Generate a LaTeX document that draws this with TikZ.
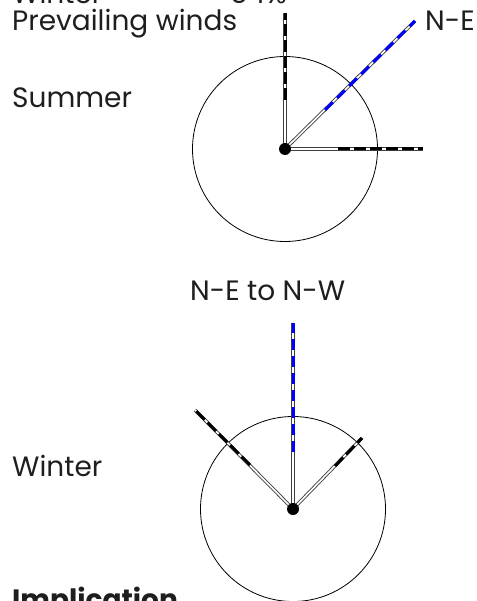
\documentclass[tikz,border=0pt]{standalone}
\usepackage{fontspec}
\setmainfont{Poppins}
\definecolor{txt}{RGB}{30,30,30}
\begin{document}
\begin{tikzpicture}[x=1pt,y=-1pt,
  lbl/.style={anchor=base west,inner sep=0pt,text=txt,font=\fontsize{28}{30}\selectfont},
  ring/.style={draw=black,line width=0.8pt,circle,inner sep=0pt,minimum size=185pt},
  hub/.style={fill=black,circle,inner sep=0pt,minimum size=12pt},
  raybase/.style={draw=black!75,double=white,double distance=1.6pt,line width=0.9pt},
  blkdash/.style={draw=black,line width=3pt,dash pattern=on 12pt off 4pt},
  bludash/.style={draw=blue,line width=3pt,dash pattern=on 11pt off 6pt}]
\useasboundingbox (0,0) rectangle (476,601);
\clip (0,0) rectangle (476,601);
% texts
\node[lbl] (tw) at (12,4) {Winter};
\node[lbl] (tp) at (230,4) {54\%};
\node[lbl] (pw) at (12,31) {Prevailing winds};
\node[lbl] (ne) at (425,31) {N-E};
\node[lbl] (su) at (12,108) {Summer};
\node[lbl] (nw) at (190,300) {N-E to N-W};
\node[lbl] (wi) at (12,476) {Winter};
\node[lbl,font=\bfseries\fontsize{28}{30}\selectfont] (im) at (12,609) {Implication};
% summer rose
\node[ring] (r1) at (285,149) {};
\coordinate (s1) at (285,149);
\coordinate (sn) at (285,13);
\coordinate (se) at (423,149);
\coordinate (sd) at (415,21);
\coordinate (sna) at (285,100);
\coordinate (sea) at (338,149);
\coordinate (sda) at (325,110);
\draw[raybase] (s1) -- (sn);
\draw[raybase] (s1) -- (se);
\draw[raybase] (s1) -- (sd);
\draw[blkdash] (sna) -- (sn);
\draw[blkdash] (sea) -- (se);
\draw[bludash] (sda) -- (sd);
\node[hub] (h1) at (s1) {};
% winter rose
\node[ring] (r2) at (293,509) {};
\coordinate (w1) at (293,509);
\coordinate (wn) at (293,323);
\coordinate (wl) at (195,410);
\coordinate (wr) at (362,438);
\coordinate (wna) at (293,452);
\coordinate (wla) at (250,465);
\coordinate (wra) at (335,466);
\draw[raybase] (w1) -- (wn);
\draw[raybase] (w1) -- (wl);
\draw[raybase] (w1) -- (wr);
\draw[bludash] (wna) -- (wn);
\draw[blkdash] (wla) -- (wl);
\draw[blkdash] (wra) -- (wr);
\node[hub] (h2) at (w1) {};
\end{tikzpicture}
\end{document}
